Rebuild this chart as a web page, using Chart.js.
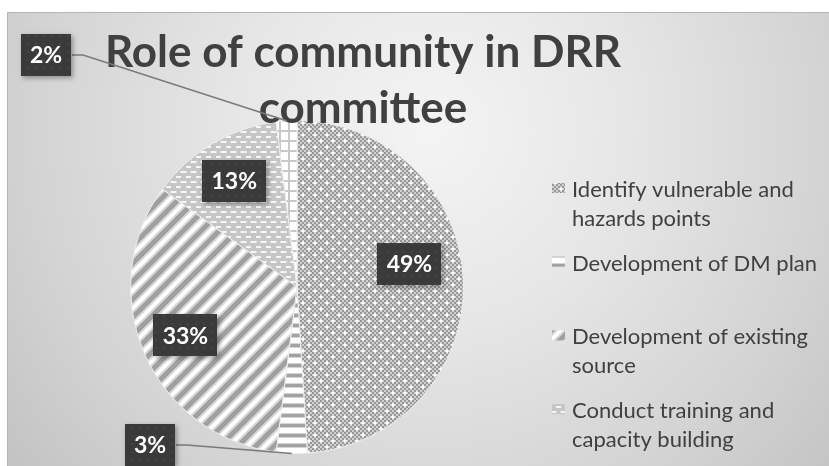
<!DOCTYPE html>
<html>
<head>
<meta charset="utf-8">
<title>Role of community in DRR committee</title>
<script src="https://cdn.jsdelivr.net/npm/chart.js@4.4.0/dist/chart.umd.min.js"></script>
<style>
  html, body { margin: 0; padding: 0; background: #fff; }
  #wrap { width: 829px; height: 466px; }
</style>
</head>
<body>
<div id="wrap"><canvas id="roleChart" width="829" height="466"></canvas></div>
<script>
// Survey answers: what the community does in the DRR committee (percent of responses)
const categories = [
    'Identify vulnerable and hazards points',
    'Development of DM plan',
    'Development of existing source',
    'Conduct training and capacity building',
    'Others'
];
const shares = [49, 3, 33, 13, 2];
const titleLines = ['Role of community in DRR', 'committee'];
// the last slice has no entry in the legend
const legendItems = categories.slice(0, 4);

const FONT = 'Lato, "Open Sans", sans-serif';
const INK = '#404040';

// ---- fill patterns -------------------------------------------------------
function tile(w, h, paint) {
    const c = document.createElement('canvas');
    c.width = w; c.height = h;
    paint(c.getContext('2d'), w, h);
    return c.getContext('2d').createPattern(c, 'repeat');
}

// fine grey checker with small white stars
const starPattern = tile(12, 12, (g) => {
    for (let y = 0; y < 12; y += 2) {
        for (let x = 0; x < 12; x += 2) {
            g.fillStyle = ((x + y) / 2) % 2 ? '#d0d0d0' : '#989898';
            g.fillRect(x, y, 2, 2);
        }
    }
    g.fillStyle = '#ffffff';
    [[3, 3], [9, 9]].forEach(([x, y]) => {
        g.fillRect(x - 1, y - 1, 2, 2);
        g.fillRect(x - 2, y - 0.5, 4, 1);
        g.fillRect(x - 0.5, y - 2, 1, 4);
    });
});

// horizontal bars
const barPattern = tile(10, 10, (g) => {
    g.fillStyle = '#ffffff'; g.fillRect(0, 0, 10, 10);
    g.fillStyle = '#d4d4d4'; g.fillRect(0, 3, 10, 5);
    g.fillStyle = '#a2a2a2'; g.fillRect(0, 4, 10, 3);
});

// wide diagonal stripes
const diagPattern = tile(18, 18, (g) => {
    g.fillStyle = '#ffffff'; g.fillRect(0, 0, 18, 18);
    g.lineCap = 'square';
    [[9, '#d8d8d8'], [5, '#a0a0a0']].forEach(([lw, col]) => {
        g.strokeStyle = col; g.lineWidth = lw;
        for (let k = -1; k <= 1; k++) {
            g.beginPath();
            g.moveTo(k * 18 - 2, 20);
            g.lineTo(k * 18 + 20, -2);
            g.stroke();
        }
    });
});

// grey with little white dashes
const dashPattern = tile(10, 10, (g) => {
    g.fillStyle = '#c6c6c6'; g.fillRect(0, 0, 10, 10);
    g.fillStyle = '#f6f6f6';
    g.fillRect(1, 1, 5, 2);
    g.fillRect(6, 6, 4, 2);
    g.fillRect(0, 6, 1, 2);
    g.fillStyle = '#dedede';
    g.fillRect(0, 1, 1, 2); g.fillRect(6, 1, 1, 2);
});

// white grid
const gridPattern = tile(9, 10, (g) => {
    g.fillStyle = '#ffffff'; g.fillRect(0, 0, 9, 10);
    g.fillStyle = '#c8c8c8';
    g.fillRect(0, 0, 2, 10);
    g.fillRect(0, 0, 9, 2);
});

const tagPattern = tile(8, 8, (g) => {
    g.fillStyle = '#3a3a3a'; g.fillRect(0, 0, 8, 8);
    g.fillStyle = '#444444'; g.fillRect(3, 3, 2, 2);
});

const slicePatterns = [starPattern, barPattern, diagPattern, dashPattern, gridPattern];

// ---- value tags ----------------------------------------------------------
// inside tags sit on the slice bisector; outside tags get a leader line
const tagPlacement = [
    { dist: 0.69, turn: -10 },
    { x: 150, y: 445 },
    { dist: 0.73, turn: 0 },
    { dist: 0.74, turn: 0 },
    { x: 46, y: 55 }
];

function drawTag(ctx, text, cx, cy) {
    ctx.font = 'bold 23px ' + FONT;
    const w = Math.round(ctx.measureText(text).width + 18), h = 42;
    const x = Math.round(cx - w / 2), y = Math.round(cy - h / 2);
    ctx.save();
    ctx.shadowColor = 'rgba(0,0,0,0.35)';
    ctx.shadowBlur = 5;
    ctx.shadowOffsetX = 2;
    ctx.shadowOffsetY = 2;
    ctx.fillStyle = '#3a3a3a';
    ctx.fillRect(x, y, w, h);
    ctx.restore();
    ctx.fillStyle = tagPattern;
    ctx.fillRect(x, y, w, h);
    ctx.fillStyle = '#ffffff';
    ctx.textAlign = 'center';
    ctx.textBaseline = 'middle';
    ctx.fillText(text, cx, cy + 1);
    return { x, y, w, h };
}

const backdrop = {
    id: 'backdrop',
    beforeDraw(chart) {
        const ctx = chart.ctx;
        ctx.save();
        ctx.fillStyle = '#ffffff';
        ctx.fillRect(0, 0, chart.width, chart.height);
        const grad = ctx.createRadialGradient(430, 130, 0, 430, 130, 570);
        grad.addColorStop(0, '#f4f4f4');
        grad.addColorStop(0.35, '#e6e6e6');
        grad.addColorStop(0.7, '#d3d3d3');
        grad.addColorStop(1, '#bfbfbf');
        ctx.fillStyle = grad;
        ctx.fillRect(7, 12, chart.width - 7, chart.height - 12);
        ctx.strokeStyle = '#b4b4b4';
        ctx.lineWidth = 1;
        ctx.beginPath();
        ctx.moveTo(7.5, chart.height);
        ctx.lineTo(7.5, 12.5);
        ctx.lineTo(chart.width, 12.5);
        ctx.stroke();
        ctx.restore();
    }
};

const headline = {
    id: 'headline',
    afterDatasetsDraw(chart) {
        const ctx = chart.ctx;
        ctx.save();
        ctx.font = 'bold 44px ' + FONT;
        ctx.fillStyle = INK;
        ctx.textAlign = 'center';
        ctx.textBaseline = 'alphabetic';
        ctx.fillText(titleLines[0], 363, 67);
        ctx.fillText(titleLines[1], 363, 123);
        ctx.restore();
    }
};

const valueTags = {
    id: 'valueTags',
    afterDraw(chart) {
        const ctx = chart.ctx;
        const arcs = chart.getDatasetMeta(0).data;
        ctx.save();
        arcs.forEach((arc, i) => {
            const p = tagPlacement[i];
            const mid = (arc.startAngle + arc.endAngle) / 2;
            const text = shares[i] + '%';
            if (p.dist !== undefined) {
                const a = mid + p.turn * Math.PI / 180;
                const r = arc.outerRadius * p.dist;
                drawTag(ctx, text, arc.x + Math.cos(a) * r, arc.y + Math.sin(a) * r);
            } else {
                const ex = arc.x + Math.cos(mid) * arc.outerRadius;
                const ey = arc.y + Math.sin(mid) * arc.outerRadius;
                const sx = p.x + 26;
                ctx.strokeStyle = '#7a7a7a';
                ctx.lineWidth = 1.5;
                ctx.beginPath();
                ctx.moveTo(sx, p.y);
                ctx.lineTo(sx + 11, p.y);
                ctx.lineTo(ex, ey);
                ctx.stroke();
                drawTag(ctx, text, p.x, p.y);
            }
        });
        ctx.restore();
    }
};

function wrapText(ctx, text, maxWidth) {
    const words = text.split(' ');
    const lines = [];
    let line = '';
    words.forEach((w) => {
        const trial = line ? line + ' ' + w : w;
        if (line && ctx.measureText(trial).width > maxWidth) {
            lines.push(line);
            line = w;
        } else {
            line = trial;
        }
    });
    lines.push(line);
    return lines;
}

const sideLegend = {
    id: 'sideLegend',
    afterDraw(chart) {
        const ctx = chart.ctx;
        ctx.save();
        ctx.font = '22px ' + FONT;
        ctx.textAlign = 'left';
        ctx.textBaseline = 'alphabetic';
        legendItems.forEach((label, i) => {
            const base = 197 + i * 73.7;
            ctx.fillStyle = slicePatterns[i];
            ctx.fillRect(552, base - 14, 13, 10);
            ctx.fillStyle = INK;
            wrapText(ctx, label, 252).forEach((ln, k) => {
                ctx.fillText(ln, 572, base + k * 28.5);
            });
        });
        ctx.restore();
    }
};

new Chart(document.getElementById('roleChart'), {
    type: 'pie',
    data: {
        labels: categories,
        datasets: [{
            data: shares,
            backgroundColor: slicePatterns,
            borderColor: '#eeeeee',
            borderWidth: 1
        }]
    },
    options: {
        responsive: false,
        animation: false,
        layout: { padding: { left: 130, right: 365, top: 120, bottom: 12 } },
        plugins: {
            legend: { display: false },
            tooltip: { enabled: false },
            title: { display: false }
        }
    },
    plugins: [backdrop, headline, valueTags, sideLegend]
});
</script>
</body>
</html>
